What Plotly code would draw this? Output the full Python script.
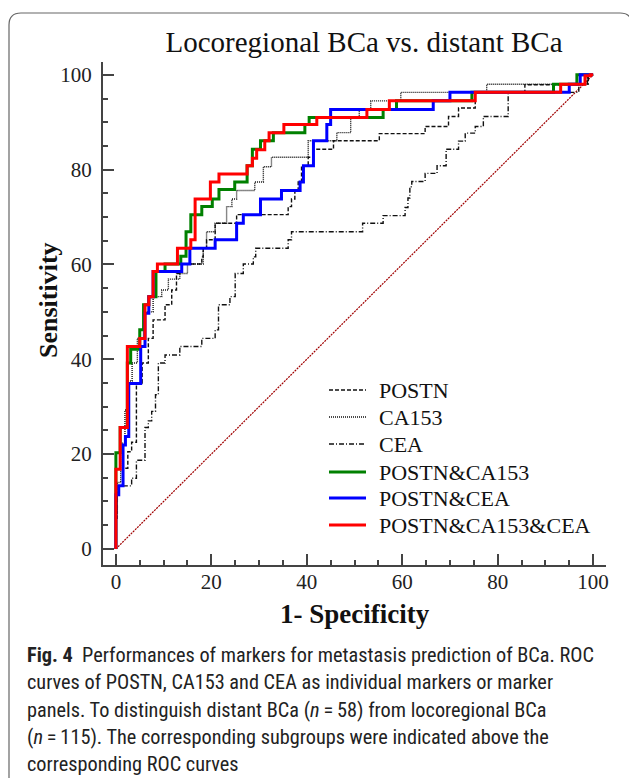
import plotly.graph_objects as go

# ---- data, ROC vertices: (1-specificity %, sensitivity %) ----
postn_fpr = [0, 0, 0.3, 1.5, 2.5, 3.3, 4.3, 5.5, 6.8, 7.8, 10.3, 11.7, 12.7, 13.8, 18.0, 18.3, 19.0, 20.8,
             25.3, 36.1, 36.8, 37.5, 38.2, 38.9, 40.3, 41.4, 45.6, 55.2, 64.8, 69.7, 71.8, 75.3, 85.7, 98.8, 100]
postn_tpr = [0, 6.5, 13.3, 17.0, 20.5, 22.5, 35.0, 39.2, 44.4, 48.3, 51.5, 54.6, 58.1, 60.1, 61.6, 63.4, 65.2, 68.7,
             70.5, 72.2, 73.8, 75.6, 77.4, 80.8, 82.6, 84.3, 86.1, 87.6, 89.1, 91.2, 93.0, 96.3, 97.9, 100, 100]

ca153_fpr = [0, 0, 0.3, 1.0, 1.9, 2.6, 3.4, 4.5, 5.8, 7.8, 9.6, 11.0, 13.4, 15.0, 18.3, 19.0, 20.8, 23.2,
             24.3, 25.3, 29.1, 30.9, 32.6, 40.3, 46.3, 49.2, 51.0, 53.4, 59.7, 77.7, 98.8, 100]
ca153_tpr = [0, 8.0, 14.0, 22.3, 29.3, 35.4, 39.2, 44.4, 50.0, 53.2, 54.6, 56.9, 58.1, 60.1, 63.4, 66.9, 68.7, 72.2,
             73.8, 75.6, 77.4, 80.6, 82.6, 86.1, 87.8, 91.0, 92.7, 94.5, 96.3, 98.0, 100, 100]

cea_fpr = [0, 0, 0.3, 3.3, 4.3, 6.1, 6.8, 7.5, 8.3, 8.9, 10.3, 13.4, 18.0, 20.8, 21.5, 23.9, 25.0, 26.7, 28.8,
           29.3, 36.1, 36.8, 51.7, 56.0, 60.6, 61.2, 61.6, 62.0, 64.8, 67.3, 69.2, 71.8, 73.2, 75.3, 77.0, 82.2,
           97.0, 99.0, 100]
cea_tpr = [0, 6.5, 13.3, 14.9, 18.7, 25.6, 27.0, 29.0, 32.5, 39.2, 40.9, 42.7, 44.4, 46.2, 51.5, 53.2, 58.1, 60.1, 61.6,
           63.4, 65.2, 66.9, 68.7, 70.3, 72.0, 74.0, 76.4, 77.5, 79.2, 80.8, 84.3, 86.0, 87.7, 89.1, 91.2, 96.3,
           98.0, 100, 100]

pc_fpr = [0, 0, 0.9, 2.4, 3.1, 5.0, 5.8, 6.9, 8.4, 10.3, 13.6, 14.7, 15.7, 18.0, 20.2, 21.6, 24.9, 27.5, 28.6,
          30.3, 33.0, 39.6, 40.5, 56.0, 58.8, 74.6, 91.7, 96.6, 100]
pc_tpr = [0, 20.3, 25.6, 39.2, 42.1, 46.2, 51.5, 53.2, 58.5, 60.1, 61.7, 66.9, 70.5, 72.2, 73.8, 75.8, 77.4, 80.8, 84.3,
          86.1, 87.8, 89.5, 91.0, 92.7, 94.5, 96.3, 98.0, 100, 100]

pe_fpr = [0, 0, 0.6, 1.5, 2.0, 2.7, 5.2, 6.1, 6.9, 7.8, 13.8, 15.5, 20.8, 25.3, 26.7, 30.3, 34.7, 38.6, 39.3,
          41.4, 44.2, 45.0, 66.5, 70.0, 95.0, 97.3, 100]
pe_tpr = [0, 11.4, 13.3, 21.9, 23.7, 34.9, 42.7, 49.7, 53.2, 58.5, 60.1, 63.4, 65.2, 68.7, 70.5, 73.8, 75.6, 77.4, 80.8,
          86.1, 89.5, 92.7, 94.5, 96.3, 98.0, 100, 100]

pce_fpr = [0, 0, 0.9, 2.4, 5.0, 6.1, 6.9, 7.8, 8.7, 12.9, 15.7, 16.6, 19.8, 21.6, 27.5, 28.6, 29.5, 31.2, 32.1,
           35.2, 42.1, 52.6, 57.3, 75.3, 93.2, 98.3, 99.4, 100]
pce_tpr = [0, 16.8, 25.6, 42.7, 44.4, 51.5, 53.2, 58.5, 60.1, 63.4, 65.2, 73.8, 77.4, 79.1, 80.8, 82.4, 84.2, 86.1, 87.8,
           89.5, 91.0, 92.7, 94.5, 96.3, 98.0, 99.8, 100, 100]

diag = [0, 100]
tick_vals = [0, 20, 40, 60, 80, 100]

series = [
    ("POSTN", postn_fpr, postn_tpr, "#111", 1.4, "4px,2px"),
    ("CA153", ca153_fpr, ca153_tpr, "#111", 1.4, "1px,1px"),
    ("CEA", cea_fpr, cea_tpr, "#111", 1.4, "5px,2px,1px,2px"),
    ("POSTN&CA153", pc_fpr, pc_tpr, "#008000", 3, "solid"),
    ("POSTN&CEA", pe_fpr, pe_tpr, "#0000ff", 3, "solid"),
    ("POSTN&CA153&CEA", pce_fpr, pce_tpr, "#ff0000", 3, "solid"),
]

SERIF = "Liberation Serif, Times New Roman, serif"
SANS = "Roboto Condensed, Liberation Sans Narrow, Roboto, sans-serif"

# page geometry (pixels) of the plotting area
PL, PR, PT, PB = 103, 606, 62, 565


def xp(px):
    return (px - PL) / (PR - PL)


def yp(py):
    return (PB - py) / (PB - PT)


fig = go.Figure()
fig.add_trace(go.Scatter(x=diag, y=diag, mode="lines", showlegend=False, hoverinfo="skip",
                         line=dict(color="#a00000", width=1.2, dash="2px,1px")))
for name, xs, ys, col, w, dash in series:
    fig.add_trace(go.Scatter(x=xs, y=ys, mode="lines", name=name, line_shape="hv", showlegend=False,
                             line=dict(color=col, width=w, dash=dash)))

axis_common = dict(
    showline=True, linecolor="#444", linewidth=2, mirror=False, automargin=False,
    ticks="inside", ticklen=11, tickwidth=2, tickcolor="#444",
    tickmode="array", tickvals=tick_vals,
    minor=dict(ticks="inside", ticklen=5, tickwidth=1.5, tickcolor="#444", dtick=5, tick0=0),
    showgrid=False, zeroline=False,
    tickfont=dict(family=SERIF, size=21, color="#222"),
)

fig.update_layout(
    template="none",
    width=629, height=778,
    margin=dict(l=PL, r=629 - PR, t=PT, b=778 - PB, autoexpand=False),
    paper_bgcolor="white", plot_bgcolor="white",
    title=dict(text="Locoregional BCa vs. distant BCa", x=364 / 629, xanchor="center",
               y=1 - 42 / 778, yanchor="middle", font=dict(family=SERIF, size=29, color="#111")),
    xaxis=dict(range=[-2.7, 102.7], ticklabelstandoff=-3, **axis_common),
    yaxis=dict(range=[-3.4, 102.7], ticklabelstandoff=5, **axis_common),
    showlegend=False,
)

# manual legend (samples + real text)
leg_rows = [390, 417, 444, 472, 498, 525]
for (name, xs, ys, col, w, dash), py in zip(series, leg_rows):
    fig.add_shape(type="line", xref="paper", yref="paper", x0=xp(329), x1=xp(366), y0=yp(py), y1=yp(py),
                  line=dict(color=col, width=w, dash=dash))
    fig.add_annotation(text=name, xref="paper", yref="paper", x=xp(377), y=yp(py), xanchor="left",
                       yanchor="middle", showarrow=False, font=dict(family=SERIF, size=22, color="#111"))

# axis titles
fig.add_annotation(text="<b>1- Specificity</b>", xref="paper", yref="paper", x=0.5, y=yp(614),
                   xanchor="center", yanchor="middle", showarrow=False,
                   font=dict(family=SERIF, size=27, color="#111"))
fig.add_annotation(text="<b>Sensitivity</b>", xref="paper", yref="paper", x=xp(48), y=yp(300),
                   xanchor="center", yanchor="middle", showarrow=False, textangle=-90,
                   font=dict(family=SERIF, size=26, color="#111"))

# caption
caption = [
    "<b>Fig. 4</b>&nbsp;&nbsp;Performances of markers for metastasis prediction of BCa. ROC",
    "curves of POSTN, CA153 and CEA as individual markers or marker",
    "panels. To distinguish distant BCa (<i>n</i>\u2009=\u200958) from locoregional BCa",
    "(<i>n</i>\u2009=\u2009115). The corresponding subgroups were indicated above the",
    "corresponding ROC curves",
]
cap_y = [655, 682, 710, 737, 764]
for t, py in zip(caption, cap_y):
    fig.add_annotation(text=t, xref="paper", yref="paper", x=xp(25), y=yp(py),
                       xanchor="left", yanchor="middle", showarrow=False, align="left",
                       font=dict(family=SANS, size=20.3, color="#222"))

# figure frame (rounded rectangle)
L, T, R, B, r = 9, 13, 632, 800, 12
path = (f"M {xp(L)},{yp(B)} L {xp(L)},{yp(T + r)} Q {xp(L)},{yp(T)} {xp(L + r)},{yp(T)} "
        f"L {xp(R - r)},{yp(T)} Q {xp(R)},{yp(T)} {xp(R)},{yp(T + r)} L {xp(R)},{yp(B)}")
fig.add_shape(type="path", path=path, xref="paper", yref="paper", line=dict(color="#666", width=1.2))

fig.write_html("out.html", config={"displayModeBar": False},
               post_script="document.body.style.margin='0';")
